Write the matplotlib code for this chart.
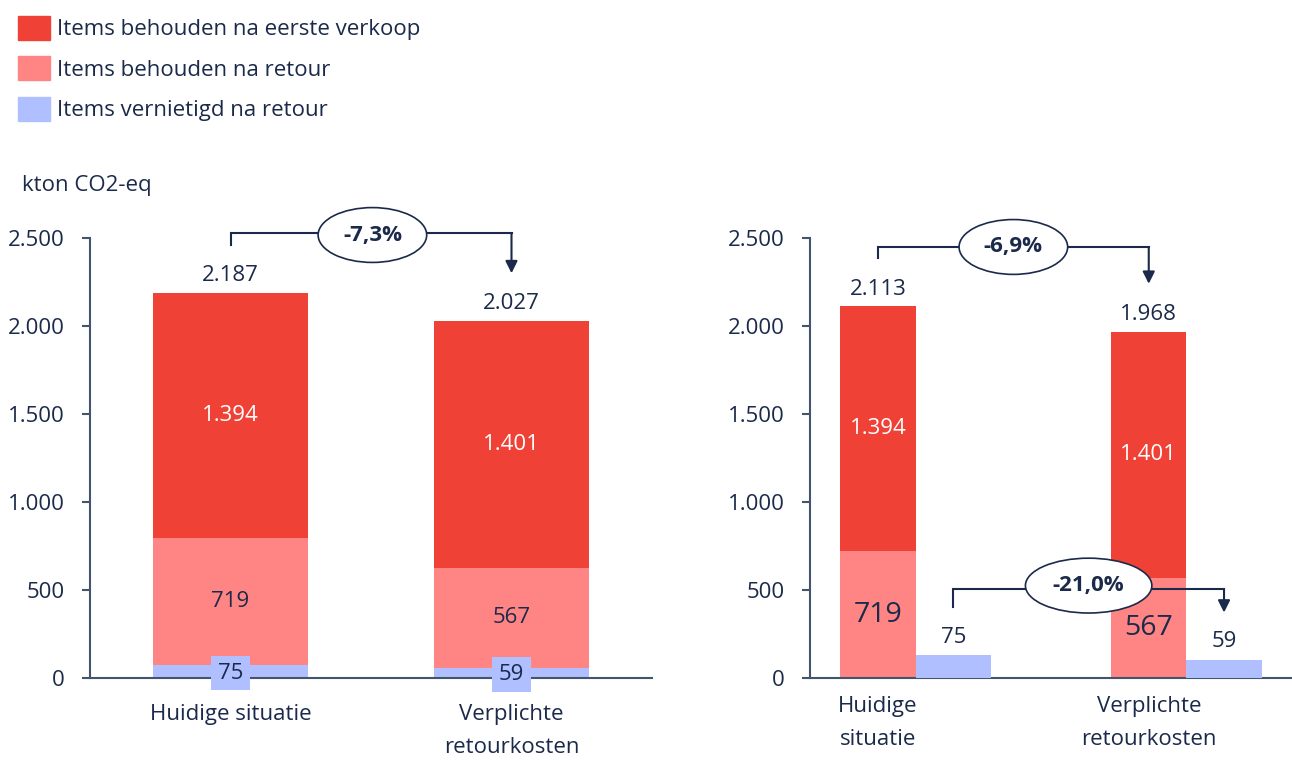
import matplotlib
matplotlib.use("Agg")
import matplotlib.pyplot as plt
from matplotlib.patches import Patch

plt.rcParams['font.family'] = ['Open Sans', 'DejaVu Sans']

# data
categories_left = ["Huidige situatie", "Verplichte\nretourkosten"]
categories_right = ["Huidige\nsituatie", "Verplichte\nretourkosten"]
first_sale = [1394, 1401]      # Items behouden na eerste verkoop
kept_return = [719, 567]       # Items behouden na retour
destroyed = [75, 59]           # Items vernietigd na retour
totals_left = [2187, 2027]
totals_right = [2113, 1968]
change_total_left = "-7,3%"
change_total_right = "-6,9%"
change_destroyed = "-21,0%"
series_names = ["Items behouden na eerste verkoop", "Items behouden na retour",
                "Items vernietigd na retour"]

RED = "#EF4136"
PINK = "#FF8585"
BLUE = "#B0BFFF"
NAVY = "#1B2A4A"
AXIS = "#44546A"
FS = 16


def fmt(v):
    return f"{v:,}".replace(",", ".")


def style_axis(ax, ticks, labels, pad_x, spacing):
    ax.set_ylim(0, 2500)
    ax.set_yticks([0, 500, 1000, 1500, 2000, 2500])
    ax.set_yticklabels([fmt(t) for t in [0, 500, 1000, 1500, 2000, 2500]])
    ax.set_xticks(ticks)
    ax.set_xticklabels(labels, linespacing=spacing)
    for s in ["top", "right"]:
        ax.spines[s].set_visible(False)
    for s in ["left", "bottom"]:
        ax.spines[s].set_color(AXIS)
        ax.spines[s].set_linewidth(1.5)
    ax.tick_params(axis="y", length=6, width=1.5, color=AXIS, pad=12,
                   labelsize=FS, labelcolor=NAVY)
    ax.tick_params(axis="x", length=0, pad=pad_x, labelsize=FS, labelcolor=NAVY)


def bracket(ax, x0, x1, y, y_foot, y_tip, label, xm, ym):
    ax.plot([x0, x0, x1], [y_foot, y, y], color=NAVY, lw=1.5, clip_on=False,
            solid_joinstyle="miter", zorder=4)
    ax.annotate("", xy=(x1, y_tip), xytext=(x1, y), annotation_clip=False,
                arrowprops=dict(arrowstyle="-|>", color=NAVY, lw=1.5,
                                mutation_scale=18, shrinkA=0, shrinkB=0), zorder=4)
    ax.text(xm, ym, label, ha="center", va="center", fontsize=16, fontweight="bold",
            color=NAVY, zorder=6, clip_on=False,
            bbox=dict(boxstyle="ellipse,pad=0.4", fc="white", ec=NAVY, lw=1.2))


fig = plt.figure(figsize=(12.92, 7.6), dpi=100)

# left panel: fully stacked
axL = fig.add_axes([90 / 1292, 1 - 678 / 760, (652 - 90) / 1292, 440 / 760])
x = [0, 1]
w = 0.555
base_pink = destroyed
base_red = [d + k for d, k in zip(destroyed, kept_return)]
axL.bar(x, destroyed, w, color=BLUE, zorder=2)
axL.bar(x, kept_return, w, bottom=base_pink, color=PINK, zorder=2)
axL.bar(x, first_sale, w, bottom=base_red, color=RED, zorder=2)
axL.set_xlim(-0.5, 1.5)
style_axis(axL, x, categories_left, 19, 1.75)

for i in x:
    axL.text(i, base_red[i] + first_sale[i] / 2, fmt(first_sale[i]), ha="center",
             va="center", color="white", fontsize=FS)
    axL.text(i, base_pink[i] + kept_return[i] / 2, fmt(kept_return[i]), ha="center",
             va="center", color=NAVY, fontsize=FS)
    axL.text(i, destroyed[i] / 2 - 10, fmt(destroyed[i]), ha="center", va="center",
             color=NAVY, fontsize=FS, zorder=5,
             bbox=dict(boxstyle="square,pad=0.3", fc=BLUE, ec="none"))
    axL.annotate(fmt(totals_left[i]), xy=(i, totals_left[i]), xytext=(0, 13),
                 textcoords="offset points", ha="center", va="center",
                 fontsize=FS, color=NAVY)

bracket(axL, 0, 1, 2528, 2460, 2300, change_total_left, 0.505, 2517)

# right panel: stacked red/pink next to separate blue bar
axR = fig.add_axes([810 / 1292, 1 - 678 / 760, (1292 - 810) / 1292, 440 / 760])
wr = 0.278
xr = [i - wr / 2 for i in x]
xb = [i + wr / 2 for i in x]
axR.bar(xr, kept_return, wr, color=PINK, zorder=2)
axR.bar(xr, first_sale, wr, bottom=kept_return, color=RED, zorder=2)
axR.set_xlim(-0.39, 1.39)
style_axis(axR, xr, categories_right, 13, 1.75)

axB = axR.twinx()
axB.bar(xb, destroyed, wr, color=BLUE, zorder=2)
axB.set_ylim(0, 1440)
axB.set_xlim(-0.39, 1.39)
axB.axis("off")

for i in x:
    axR.text(xr[i], kept_return[i] + first_sale[i] / 2, fmt(first_sale[i]),
             ha="center", va="center", color="white", fontsize=FS)
    axR.text(xr[i], kept_return[i] / 2, fmt(kept_return[i]), ha="center",
             va="center", color=NAVY, fontsize=20.5)
    axR.annotate(fmt(totals_right[i]), xy=(xr[i], totals_right[i]), xytext=(0, 12),
                 textcoords="offset points", ha="center", va="center",
                 fontsize=FS, color=NAVY)
    axB.annotate(fmt(destroyed[i]), xy=(xb[i], destroyed[i]), xytext=(0, 13),
                 textcoords="offset points", ha="center", va="center",
                 fontsize=FS, color=NAVY)

bracket(axR, xr[0], xr[1], 2449, 2386, 2240, change_total_right, 0.361, 2449)
bracket(axR, xb[0], xb[1], 506, 403, 372, change_destroyed, 0.639, 525)

# legend and unit
handles = [Patch(color=c) for c in [RED, PINK, BLUE]]
fig.legend(handles, series_names, loc="upper left", bbox_to_anchor=(0.002, 1.0),
           frameon=False, fontsize=16, handlelength=1.45, handleheight=1.3,
           handletextpad=0.3, labelspacing=0.72, labelcolor=NAVY, borderaxespad=0.3)
fig.text(22 / 1292, 1 - 185 / 760, "kton CO2-eq", fontsize=FS, color=NAVY,
         ha="left", va="center")

fig.savefig("out.png", dpi=100)
